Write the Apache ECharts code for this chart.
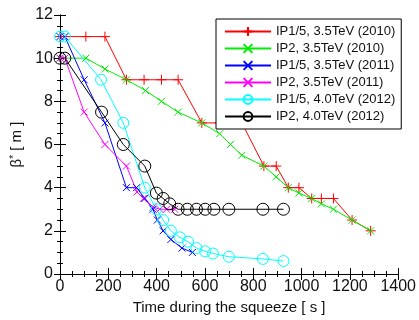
<!DOCTYPE html>
<html>
<head>
<meta charset="utf-8">
<script src="https://cdn.jsdelivr.net/npm/echarts@6/dist/echarts.min.js"></script>
<style>
  html, body { margin: 0; padding: 0; background: #fff; }
  #chart { width: 419px; height: 320px; }
</style>
</head>
<body>
<div id="chart"></div>
<script>
// squeeze steps: time [s] and beta* [m]
const ip15_2010_t = [0, 107, 186, 275, 348, 420, 489, 587, 661, 706, 753, 844, 895, 945, 989, 1042, 1082, 1132, 1209, 1286];
const ip15_2010_b = [11, 11, 11, 9, 9, 9, 9, 7, 7, 7, 7, 5, 5, 4, 4, 3.5, 3.5, 3.5, 2.5, 2];

const ip2_2010_t = [0, 107, 186, 275, 354, 420, 489, 587, 661, 706, 753, 844, 895, 945, 989, 1042, 1082, 1132, 1209, 1286];
const ip2_2010_b = [10, 10, 9.5, 9, 8.5, 8, 7.5, 7, 6.5, 6, 5.5, 5, 4.5, 4, 3.75, 3.5, 3.25, 3, 2.5, 2];

const ip15_2011_t = [0, 20, 100, 186, 275, 317, 351, 385, 403, 427, 459, 505, 548];
const ip15_2011_b = [11, 11, 9, 7, 4, 4, 3.5, 3, 2.5, 2, 1.6, 1.2, 1.0];

const ip2_2011_t = [0, 20, 100, 186, 275, 319, 345, 385, 413, 441, 475];
const ip2_2011_b = [10, 10, 7.5, 6, 5, 3.8, 3.5, 3.1, 3, 3, 3];

const ip15_2012_t = [0, 20, 170, 262, 351, 399, 427, 459, 496, 530, 565, 601, 633, 699, 840, 925];
const ip15_2012_b = [11, 11, 9, 7, 4, 3, 2.5, 2, 1.7, 1.5, 1.2, 1.05, 0.95, 0.8, 0.7, 0.6];

const ip2_2012_t = [0, 20, 172, 262, 351, 399, 427, 454, 489, 527, 565, 601, 637, 699, 840, 925];
const ip2_2012_b = [10, 10, 7.5, 6, 5, 3.75, 3.5, 3.25, 3, 3, 3, 3, 3, 3, 3, 3];

const xTicks = [0, 200, 400, 600, 800, 1000, 1200, 1400];
const yTicks = [0, 2, 4, 6, 8, 10, 12];

const PLUS = 'path://M5,0L5,10M0,5L10,5';
const CROSS = 'path://M0,0L10,10M0,10L10,0';

function pairs(t, b) {
  return t.map((v, i) => [v, b[i]]);
}

function makeSeries(name, t, b, color, symbol, size) {
  return {
    name: name,
    type: 'line',
    data: pairs(t, b),
    symbol: symbol,
    symbolSize: size,
    showAllSymbol: true,
    lineStyle: { color: color, width: 1 },
    itemStyle: { color: 'rgba(0,0,0,0)', borderColor: color, borderWidth: 1 },
    emphasis: { disabled: true },
    animation: false,
  };
}

const font = 'Liberation Sans, Arial, sans-serif';

function axisBase(extra) {
  return Object.assign({
    type: 'value',
    axisLine: { show: true, lineStyle: { color: '#000', width: 1 } },
    axisTick: { show: true, inside: true, length: 6, lineStyle: { color: '#000' } },
    minorTick: { show: true, splitNumber: 4, length: 3, lineStyle: { color: '#000' } },
    splitLine: { show: false },
    minorSplitLine: { show: false },
  }, extra);
}

const chart = echarts.init(document.getElementById('chart'), null, { renderer: 'canvas' });

chart.setOption({
  backgroundColor: '#fff',
  animation: false,
  grid: { left: 60, right: 20, top: 15, bottom: 39 },
  legend: {
    orient: 'vertical',
    left: 216,
    top: 19,
    width: 175,
    padding: [6, 6, 6, 8],
    itemWidth: 46,
    itemHeight: 11,
    itemGap: 4,
    borderColor: '#000',
    borderWidth: 1,
    backgroundColor: '#fff',
    textStyle: { fontFamily: font, fontSize: 13, color: '#111' },
    data: ['IP1/5, 3.5TeV (2010)', 'IP2, 3.5TeV (2010)', 'IP1/5, 3.5TeV (2011)',
           'IP2, 3.5TeV (2011)', 'IP1/5, 4.0TeV (2012)', 'IP2, 4.0TeV (2012)'],
  },
  xAxis: [
    axisBase({
      min: xTicks[0], max: xTicks[xTicks.length - 1], interval: 200,
      position: 'bottom',
      name: 'Time during the squeeze [ s ]',
      nameLocation: 'middle',
      nameGap: 26,
      nameTextStyle: { fontFamily: font, fontSize: 15, color: '#111' },
      axisLabel: { fontFamily: font, fontSize: 16, color: '#111', margin: 5, formatter: (v) => String(v) },
    }),
    axisBase({
      min: xTicks[0], max: xTicks[xTicks.length - 1], interval: 200,
      position: 'top',
      axisLabel: { show: false },
    }),
  ],
  yAxis: [
    axisBase({
      min: yTicks[0], max: yTicks[yTicks.length - 1], interval: 2,
      position: 'left',
      name: '{b|β}{s|*}{b| [ m ]}',
      nameLocation: 'middle',
      nameGap: 34,
      nameTextStyle: {
        rich: {
          b: { fontFamily: font, fontSize: 15, color: '#111' },
          s: { fontFamily: font, fontSize: 10, color: '#111', verticalAlign: 'top', padding: [0, 0, 6, 0] },
        },
      },
      axisLabel: { fontFamily: font, fontSize: 16, color: '#111', margin: 7, formatter: (v) => String(v) },
    }),
    axisBase({
      min: yTicks[0], max: yTicks[yTicks.length - 1], interval: 2,
      position: 'right',
      axisLabel: { show: false },
    }),
  ],
  series: [
    makeSeries('IP1/5, 3.5TeV (2010)', ip15_2010_t, ip15_2010_b, '#ff0000', PLUS, 10),
    makeSeries('IP2, 3.5TeV (2010)', ip2_2010_t, ip2_2010_b, '#00ee00', CROSS, 7),
    makeSeries('IP1/5, 3.5TeV (2011)', ip15_2011_t, ip15_2011_b, '#0000ff', CROSS, 7),
    makeSeries('IP2, 3.5TeV (2011)', ip2_2011_t, ip2_2011_b, '#ff00ff', CROSS, 7),
    makeSeries('IP1/5, 4.0TeV (2012)', ip15_2012_t, ip15_2012_b, '#00ffff', 'circle', 11),
    makeSeries('IP2, 4.0TeV (2012)', ip2_2012_t, ip2_2012_b, '#000000', 'circle', 12),
  ],
});
</script>
</body>
</html>
